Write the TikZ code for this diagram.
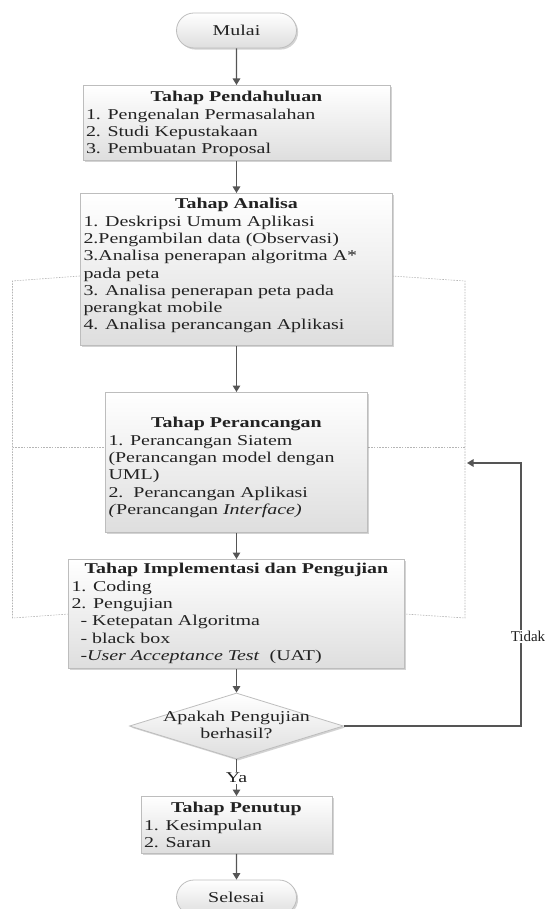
\documentclass[tikz,border=0pt]{standalone}
\usepackage{fontspec}
\setmainfont{Liberation Serif}[FakeStretch=1.33]
\newfontfamily\plainserif{Liberation Serif}
\usetikzlibrary{arrows.meta,shapes.geometric,shapes.misc,shadows}
\definecolor{edgegray}{HTML}{BDBDBD}
\definecolor{arrowgray}{HTML}{555555}
\definecolor{dotgray}{HTML}{B5B5B5}
\definecolor{fillbottom}{HTML}{DEDEDE}
\definecolor{txt}{HTML}{222222}
\newcommand\stagecontent[5]{\parbox[c][#2pt][t]{#1pt}{\vspace*{#3pt}{\centering\textbf{#4}\par}#5}}
\tikzset{
  boxlook/.style={draw=edgegray, line width=0.8pt, top color=white, bottom color=fillbottom,
    drop shadow={shadow xshift=1.6pt, shadow yshift=-1.6pt, opacity=0.35}, text=txt},
  stage/.style={boxlook, rectangle, inner xsep=3pt, inner ysep=0pt, anchor=north},
  term/.style={boxlook, rounded rectangle, minimum width=120pt, minimum height=35pt, inner sep=0pt},
  decision/.style={boxlook, diamond, minimum width=214pt, minimum height=66pt, inner sep=0pt},
  arr/.style={draw=arrowgray, line width=1.4pt, -{Triangle[length=6.5pt,width=7.5pt]}},
  dotline/.style={draw=dotgray, line width=0.6pt, dash pattern=on 1.6pt off 1.2pt},
  lbl/.style={fill=white, inner sep=1pt, text=txt}
}
\begin{document}
\begin{tikzpicture}[x=1pt,y=-1pt,font=\fontsize{15pt}{17.3pt}\selectfont]
\useasboundingbox (0,0) rectangle (548,909);
% dotted frame coordinates
\coordinate (dLtop) at (12.5,281);
\coordinate (dLmid) at (12.5,447);
\coordinate (dLbot) at (12.5,618);
\coordinate (dRtop) at (465,281);
\coordinate (dRmid) at (465,447);
\coordinate (dRbot) at (465,618);
\coordinate (anaL) at (80,276);
\coordinate (anaR) at (392,276);
\coordinate (implL) at (69,614);
\coordinate (implR) at (405,614);
\draw[dotline] (anaL) -- (dLtop) -- (dLbot) -- (implL);
\draw[dotline] (anaR) -- (dRtop) -- (dRbot) -- (implR);
\draw[dotline] (dLmid) -- (106,447);
\draw[dotline] (dRmid) -- (368,447);
% nodes
\node[term] (mulai) at (236.5,30.5) {Mulai};
\node[stage] (pend) at (236.5,85) {\stagecontent{301}{75}{6}{Tahap Pendahuluan}{1. Pengenalan Permasalahan\\2. Studi Kepustakaan\\3. Pembuatan Proposal}};
\node[stage] (ana) at (236.5,193) {\stagecontent{306}{152}{5}{Tahap Analisa}{1. Deskripsi Umum Aplikasi\\2.Pengambilan data (Observasi)\\3.Analisa penerapan algoritma A*\\pada peta\\3. Analisa penerapan peta pada\\perangkat mobile\\4. Analisa perancangan Aplikasi}};
\node[stage] (ranc) at (236.5,392) {\stagecontent{256}{140}{25}{Tahap Perancangan}{1. Perancangan Siatem\\(Perancangan model dengan\\UML)\\2.\ \ Perancangan Aplikasi\\\textit{(}Perancangan \textit{Interface)}}};
\node[stage] (impl) at (236.5,559) {\stagecontent{330}{109}{4}{Tahap Implementasi dan Pengujian}{1. Coding\\2. Pengujian\\\hspace*{9pt}- Ketepatan Algoritma\\\hspace*{9pt}- black box\\\hspace*{9pt}-\textit{User Acceptance Test}\ \ (UAT)}};
\node[decision] (dec) at (236.5,726) {};
\node[align=center, text=txt] (dectext) at (236.5,725) {Apakah Pengujian\\berhasil?};
\node[stage] (tutup) at (236.5,796) {\stagecontent{185}{57}{6}{Tahap Penutup}{1. Kesimpulan\\2. Saran}};
\node[term] (selesai) at (236.5,897.5) {Selesai};
% connectors
\draw[arr] (mulai) -- (pend);
\draw[arr] (pend) -- (ana);
\draw[arr] (ana) -- (ranc);
\draw[arr] (ranc) -- (impl);
\draw[arr] (impl) -- (dec);
\draw[arr] (dec) -- node[lbl] (ya) {Ya} (tutup);
\draw[arr] (tutup) -- (selesai);
\coordinate (loopR) at (521,726);
\coordinate (loopT) at (521,463);
\coordinate (loopEnd) at (467,463);
\draw[arr] (dec.east) -- (loopR) -- node[lbl, pos=0.34, xshift=7pt, font=\plainserif\fontsize{15pt}{17.3pt}\selectfont] (tidak) {Tidak} (loopT) -- (loopEnd);
\end{tikzpicture}
\end{document}
